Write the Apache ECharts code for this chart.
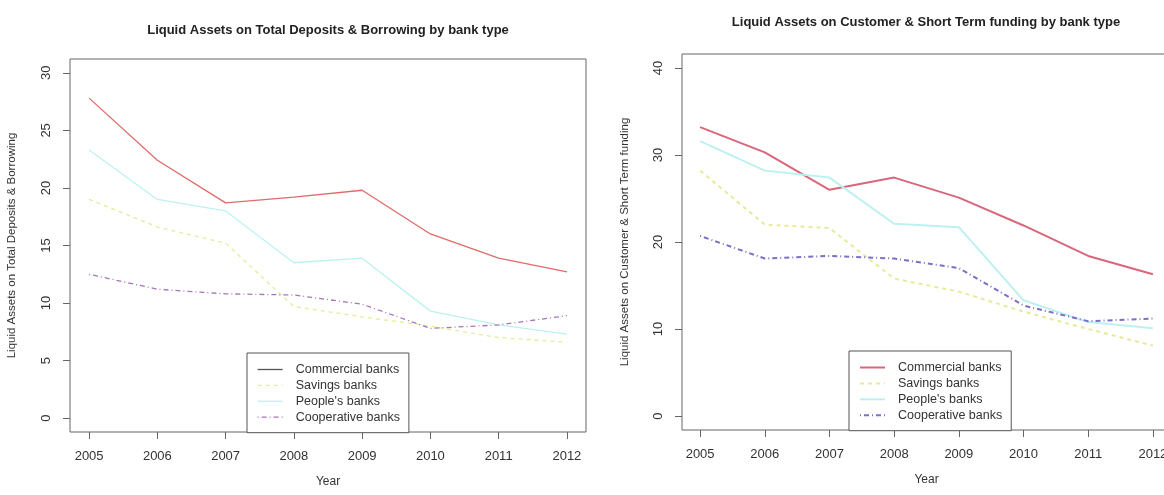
<!DOCTYPE html>
<html>
<head>
<meta charset="utf-8">
<script src="https://cdn.jsdelivr.net/npm/echarts@6/dist/echarts.min.js"></script>
<style>
  html, body { margin: 0; padding: 0; background: #fff; }
  #chart { width: 1164px; height: 495px; }
</style>
</head>
<body>
<div id="chart"></div>
<script>
// Years on the x axis
const years = [2005, 2006, 2007, 2008, 2009, 2010, 2011, 2012];
const bankTypes = ['Commercial banks', 'Savings banks', "People's banks", 'Cooperative banks'];

// Liquid assets as % of total deposits & borrowing
const depCommercial  = [27.8, 22.4, 18.7, 19.2, 19.8, 16.0, 13.9, 12.7];
const depSavings     = [19.0, 16.6, 15.2, 9.7, 8.8, 8.0, 7.0, 6.6];
const depPeoples     = [23.3, 19.0, 18.0, 13.5, 13.9, 9.3, 8.1, 7.3];
const depCooperative = [12.5, 11.2, 10.8, 10.7, 9.9, 7.8, 8.1, 8.9];

// Liquid assets as % of customer & short term funding
const fundCommercial  = [33.2, 30.3, 26.0, 27.4, 25.1, 21.9, 18.4, 16.3];
const fundSavings     = [28.2, 22.0, 21.6, 15.8, 14.3, 12.0, 10.0, 8.1];
const fundPeoples     = [31.6, 28.2, 27.4, 22.1, 21.7, 13.3, 10.8, 10.1];
const fundCooperative = [20.7, 18.1, 18.4, 18.1, 17.0, 12.7, 10.9, 11.2];

// Tick labels
const depTicks  = [0, 5, 10, 15, 20, 25, 30];
const fundTicks = [0, 10, 20, 30, 40];

const FONT = 'Liberation Sans, Arial, sans-serif';
const TXT = '#333';
const BOX = '#666';

const pairs = (vals) => years.map((y, i) => [y, vals[i]]);

function xAxisFor(gridIndex) {
  return {
    type: 'value', gridIndex, min: 2004.72, max: 2012.28,
    name: 'Year', nameLocation: 'middle', nameGap: 44,
    nameTextStyle: { color: TXT, fontFamily: FONT, fontSize: 12 },
    axisLine: { show: false, onZero: false },
    splitLine: { show: false },
    axisTick: { show: true, inside: false, length: 7, customValues: years, lineStyle: { color: BOX } },
    axisLabel: { customValues: years, margin: 18, color: TXT, fontFamily: FONT, fontSize: 13,
                 formatter: (v) => String(v) }
  };
}

function yAxisFor(gridIndex, min, max, ticks, name, gap) {
  return {
    type: 'value', gridIndex, min, max,
    name, nameLocation: 'middle', nameGap: gap, nameRotate: 90,
    nameTextStyle: { color: TXT, fontFamily: FONT, fontSize: 11.5 },
    axisLine: { show: false, onZero: false },
    splitLine: { show: false },
    axisTick: { show: true, inside: false, length: 7, customValues: ticks, lineStyle: { color: BOX } },
    axisLabel: { customValues: ticks, rotate: 90, margin: 17, color: TXT, fontFamily: FONT, fontSize: 13,
                 formatter: (v) => String(v) }
  };
}

const styles = [
  { type: 'solid' },
  { type: [4, 4] },
  { type: 'solid' },
  { type: [1, 3, 5, 3] }
];
const leftColors  = ['#e06a6a', '#e6eb9c', '#bdf1f1', '#a873b8'];
const rightColors = ['#d9667a', '#e6eb9c', '#bdf1f1', '#7c70c4'];

function lineSeries(name, vals, idx, color, width) {
  return {
    type: 'line', name, data: pairs(vals),
    xAxisIndex: idx, yAxisIndex: idx,
    symbol: 'none', smooth: false,
    lineStyle: Object.assign({ color, width }, styles[bankTypes.indexOf(name)]),
    itemStyle: { color },
    emphasis: { disabled: true }
  };
}

const leftData  = [depCommercial, depSavings, depPeoples, depCooperative];
const rightData = [fundCommercial, fundSavings, fundPeoples, fundCooperative];

const series = [];
bankTypes.forEach((n, i) => series.push(lineSeries(n, leftData[i], 0, leftColors[i], 1.3)));
bankTypes.forEach((n, i) => series.push(lineSeries(n, rightData[i], 1, rightColors[i], 2)));

// Legend keys show only the line sample, no marker
function legendFor(left, top, colors, width) {
  return {
    orient: 'vertical', left, top,
    backgroundColor: '#fff',
    borderColor: '#555', borderWidth: 1,
    padding: [10, 9, 9, 10],
    itemWidth: 25, itemHeight: 14, itemGap: 2.9,
    selectedMode: false,
    textStyle: { color: TXT, fontFamily: FONT, fontSize: 12.5, padding: [0, 0, 0, 8] },
    data: bankTypes.map((n, i) => ({
      name: n,
      itemStyle: { color: colors[i], opacity: 0, borderWidth: 0 },
      lineStyle: Object.assign({ color: colors[i], width, opacity: 1 }, styles[i])
    }))
  };
}

const chart = echarts.init(document.getElementById('chart'), null, { renderer: 'canvas' });
chart.setOption({
  backgroundColor: '#fff',
  animation: false,
  title: [
    { text: 'Liquid Assets on Total Deposits & Borrowing by bank type', left: 328, top: 24, textAlign: 'center', padding: 0,
      textStyle: { fontFamily: FONT, fontSize: 13, fontWeight: 'bold', color: '#222' } },
    { text: 'Liquid Assets on Customer & Short Term funding by bank type', left: 926, top: 16, textAlign: 'center', padding: 0,
      textStyle: { fontFamily: FONT, fontSize: 13, fontWeight: 'bold', color: '#222' } }
  ],
  grid: [
    { left: 70, top: 59, width: 516, height: 373, show: true, borderColor: BOX, borderWidth: 1,
      backgroundColor: 'transparent', outerBoundsMode: 'none', containLabel: false },
    { left: 682, top: 54, width: 489, height: 376, show: true, borderColor: BOX, borderWidth: 1,
      backgroundColor: 'transparent', outerBoundsMode: 'none', containLabel: false }
  ],
  xAxis: [xAxisFor(0), xAxisFor(1)],
  yAxis: [
    yAxisFor(0, -1.2, 31.2, depTicks, 'Liquid Assets on Total Deposits & Borrowing', 52),
    yAxisFor(1, -1.6, 41.6, fundTicks, 'Liquid Assets on Customer & Short Term funding', 51)
  ],
  legend: [
    legendFor(247, 353, ['#555', leftColors[1], leftColors[2], leftColors[3]], 1.3),
    legendFor(849, 351, rightColors, 2)
  ],
  series
});
</script>
</body>
</html>
